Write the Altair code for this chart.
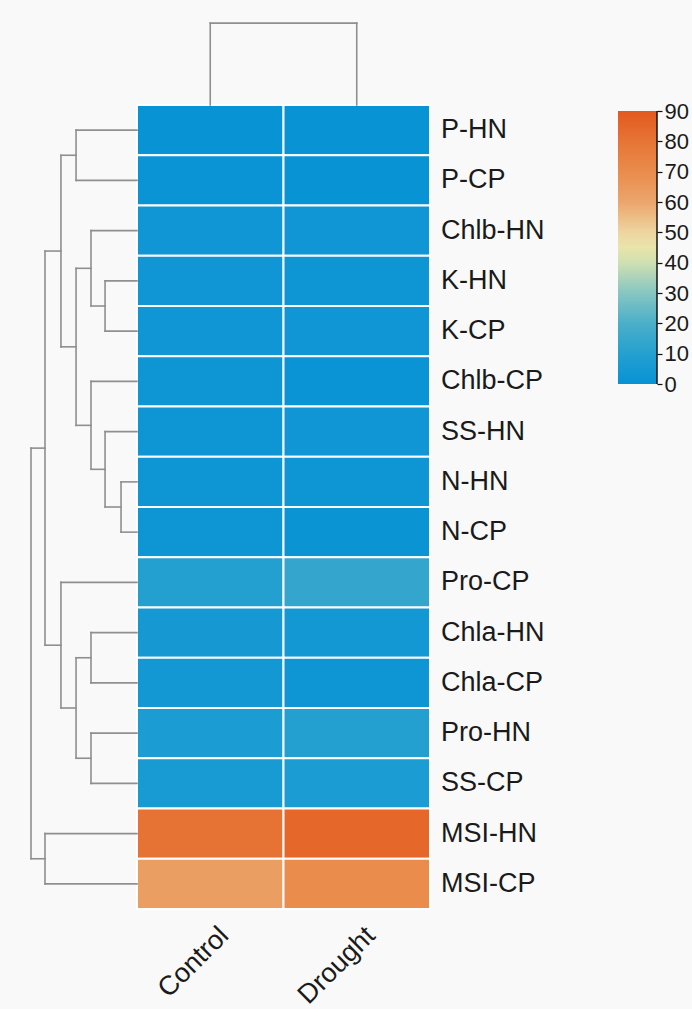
import altair as alt
import pandas as pd

# ---------------- data ----------------
rows = ["P-HN", "P-CP", "Chlb-HN", "K-HN", "K-CP", "Chlb-CP", "SS-HN", "N-HN",
        "N-CP", "Pro-CP", "Chla-HN", "Chla-CP", "Pro-HN", "SS-CP", "MSI-HN", "MSI-CP"]
columns = ["Control", "Drought"]
control = [0.5, 1, 3, 3, 3, 2, 2, 2, 2, 10, 5, 4.5, 7, 6, 81, 63]
drought = [0.5, 0.5, 3, 2, 3, 1, 3, 2, 1.5, 14, 4, 2, 10, 7, 85, 70]

# row dendrogram: (left child, right child, merge height in column widths)
row_merges = [
    ("K-HN", "K-CP", 0.218),      # n0
    ("N-HN", "N-CP", 0.109),      # n1
    ("Chlb-HN", "n0", 0.314),     # n2
    ("SS-HN", "n1", 0.218),       # n3
    ("Chlb-CP", "n3", 0.314),     # n4
    ("n2", "n4", 0.416),          # n5
    ("P-HN", "P-CP", 0.416),      # n6
    ("n6", "n5", 0.519),          # n7
    ("Chla-HN", "Chla-CP", 0.314),# n8
    ("Pro-HN", "SS-CP", 0.314),   # n9
    ("n8", "n9", 0.416),          # n10
    ("Pro-CP", "n10", 0.519),     # n11
    ("n7", "n11", 0.628),         # n12
    ("MSI-HN", "MSI-CP", 0.628),  # n13
    ("n12", "n13", 0.7235),       # n14
]
col_merge_height = 1.63  # in row heights

legend_ticks = [0, 10, 20, 30, 40, 50, 60, 70, 80, 90]
color_stops = [0, 10, 20, 30, 40, 45, 50, 60, 70, 80, 90]
color_hex = ["#0792d5", "#24a0d0", "#4bafc9", "#86c6c2", "#cfe0b2", "#e9e4aa",
             "#eed5a0", "#eca56c", "#e98c4c", "#e67535", "#e4581f"]

# ---------------- layout ----------------
PLOT_W, PLOT_H = 399, 886
PAD_L, PAD_T = 31, 23
n_rows = len(rows)
x_dom = [-0.7235, 2]
y_dom = [-1.632, n_rows]
GRAY = "#8f8f8f"
FONT = "Liberation Sans"

xs = alt.Scale(domain=x_dom, nice=False, zero=False)
ys = alt.Scale(domain=y_dom, nice=False, zero=False, reverse=True)

# ---------------- tables ----------------
heat = []
for i, r in enumerate(rows):
    heat.append({"row": r, "col": columns[0], "x": 0, "x2": 1, "y": i, "y2": i + 1, "value": control[i]})
    heat.append({"row": r, "col": columns[1], "x": 1, "x2": 2, "y": i, "y2": i + 1, "value": drought[i]})
heat_df = pd.DataFrame(heat)

pos = {r: i + 0.5 for i, r in enumerate(rows)}
hgt = {r: 0.0 for r in rows}
segs = []
for k, (a, b, h) in enumerate(row_merges):
    ya, yb = pos[a], pos[b]
    segs.append({"x": -hgt[a], "x2": -h, "y": ya, "y2": ya})
    segs.append({"x": -hgt[b], "x2": -h, "y": yb, "y2": yb})
    segs.append({"x": -h, "x2": -h, "y": ya, "y2": yb})
    name = f"n{k}"
    pos[name] = (ya + yb) / 2
    hgt[name] = h
# column dendrogram
cx = [j + 0.5 for j in range(len(columns))]
for c in cx:
    segs.append({"x": c, "x2": c, "y": 0, "y2": -col_merge_height})
segs.append({"x": cx[0], "x2": cx[1], "y": -col_merge_height, "y2": -col_merge_height})
seg_df = pd.DataFrame(segs)

rowlab_df = pd.DataFrame({"label": rows, "x": [2] * n_rows, "y": [i + 0.5 for i in range(n_rows)]})
collab_df = pd.DataFrame({"label": columns, "x": cx, "y": [n_rows] * len(columns)})
leg_df = pd.DataFrame({"lo": [legend_ticks[0]], "hi": [legend_ticks[-1]]})

# ---------------- marks ----------------
color_scale = alt.Scale(domain=color_stops, range=color_hex, interpolate="rgb")

heat_layer = alt.Chart(heat_df).mark_rect(stroke="white", strokeWidth=2).encode(
    x=alt.X("x:Q", scale=xs, axis=None),
    x2="x2:Q",
    y=alt.Y("y:Q", scale=ys, axis=None),
    y2="y2:Q",
    color=alt.Color("value:Q", scale=color_scale, legend=None),
)

dend_layer = alt.Chart(seg_df).mark_rule(color=GRAY, strokeWidth=1.6, strokeCap="square").encode(
    x=alt.X("x:Q", scale=xs, axis=None),
    x2="x2:Q",
    y=alt.Y("y:Q", scale=ys, axis=None),
    y2="y2:Q",
)

rowlab_layer = alt.Chart(rowlab_df).mark_text(
    align="left", baseline="middle", dx=11, fontSize=27, font=FONT, color="#1a1a1a"
).encode(
    x=alt.X("x:Q", scale=xs, axis=None),
    y=alt.Y("y:Q", scale=ys, axis=None),
    text="label:N",
)

collab_layer = alt.Chart(collab_df).mark_text(
    align="right", baseline="middle", angle=315, dx=-6, dy=26, fontSize=27, font=FONT, color="#1a1a1a"
).encode(
    x=alt.X("x:Q", scale=xs, axis=None),
    y=alt.Y("y:Q", scale=ys, axis=None),
    text="label:N",
)

main = alt.layer(heat_layer, dend_layer, rowlab_layer, collab_layer)

# colour bar with its own vertical scale (0 at y=384, 90 at y=111 in page pixels)
bar_bottom, bar_top = 384 - PAD_T, 111 - PAD_T
k = (bar_bottom - bar_top) / (legend_ticks[-1] - legend_ticks[0])
leg_dom = [legend_ticks[0] - (PLOT_H - bar_bottom) / k, legend_ticks[-1] + bar_top / k]
ls = alt.Scale(domain=leg_dom, nice=False, zero=False)

grad = alt.Gradient(
    gradient="linear",
    stops=[alt.GradientStop(color=c, offset=s / legend_ticks[-1]) for s, c in zip(color_stops, color_hex)],
    x1=0, x2=0, y1=1, y2=0,
)
bar_x1, bar_x2 = 618 - PAD_L, 657 - PAD_L

leg_rect = alt.Chart(leg_df).mark_rect(fill=grad).encode(
    x=alt.value(bar_x1),
    x2=alt.value(bar_x2),
    y=alt.Y("lo:Q", scale=ls, axis=alt.Axis(
        orient="right", offset=bar_x2 - PLOT_W, values=legend_ticks, domain=False, grid=False,
        ticks=True, tickColor="#111111", tickSize=5, tickWidth=1.2, labelPadding=2,
        labelFontSize=22, labelFont=FONT, labelColor="#1a1a1a", title=None)),
    y2="hi:Q",
)
leg_line = alt.Chart(leg_df).mark_rule(color="#111111", strokeWidth=1.5).encode(
    x=alt.value(bar_x2),
    y=alt.Y("lo:Q", scale=ls),
    y2="hi:Q",
)
legend = alt.layer(leg_rect, leg_line)

chart = alt.layer(main, legend).resolve_scale(y="independent").properties(
    width=PLOT_W,
    height=PLOT_H,
    autosize=alt.AutoSizeParams(type="none"),
    padding={"left": PAD_L, "top": PAD_T, "right": 692 - PAD_L - PLOT_W, "bottom": 1009 - PAD_T - PLOT_H},
    background="#f9f9f9",
).configure_view(stroke=None)

chart.save("out.html", embed_options={"renderer": "svg", "actions": False})
